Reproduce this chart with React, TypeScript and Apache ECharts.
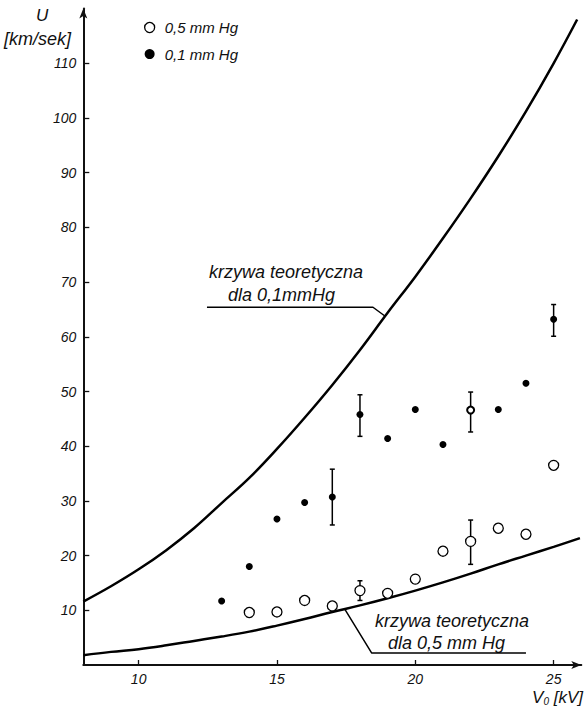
import React, { useEffect, useRef } from "react";
import * as echarts from "echarts";

// axis ticks
const xTicks = [10, 15, 20, 25];
const yTicks = [10, 20, 30, 40, 50, 60, 70, 80, 90, 100, 110];

// measured points, 0,5 mm Hg (open circles)
const v05 = [14, 15, 16, 17, 18, 19, 20, 21, 22, 23, 24, 25];
const u05 = [9.6, 9.7, 11.8, 10.8, 13.6, 13.1, 15.7, 20.8, 22.6, 25.0, 23.9, 36.5];

// measured points, 0,1 mm Hg (filled dots)
const v01 = [13, 14, 15, 16, 17, 18, 19, 20, 21, 22, 23, 24, 25];
const u01 = [11.7, 18.0, 26.7, 29.7, 30.7, 45.8, 41.4, 46.7, 40.3, 46.6, 46.7, 51.5, 63.2];

// error bars [V, low, high]
const err05 = [
  [18, 11.8, 15.4],
  [22, 18.4, 26.5],
];
const err01 = [
  [17, 25.6, 35.8],
  [18, 41.8, 49.4],
  [22, 42.6, 49.9],
  [25, 60.1, 65.9],
];

// theoretical curves
const thV01 = [8, 9, 10, 11, 12, 13, 14, 15, 16, 17, 18, 19, 20, 21, 22, 23, 24, 25, 25.85];
const thU01 = [11.6, 14.4, 17.5, 21.0, 25.0, 29.6, 34.2, 39.5, 45.2, 51.2, 57.6, 64.4, 71.0, 78.0, 85.3, 93.0, 101.2, 110.0, 118.0];
const thV05 = [8, 9, 10, 11, 12, 13, 14, 15, 16, 17, 18, 19, 20, 21, 22, 23, 24, 25, 25.95];
const thU05 = [1.8, 2.4, 2.9, 3.6, 4.4, 5.2, 6.1, 7.2, 8.4, 9.7, 10.9, 12.2, 13.6, 15.1, 16.7, 18.4, 20.0, 21.6, 23.2];

// leader lines of the annotations (data coordinates)
const leader01 = [[12.47, 65.4], [18.47, 65.4], [18.9, 63.8]];
const leader05 = [[17.45, 10.2], [18.42, 2.2], [24.0, 2.2]];

const labelFont = "'Liberation Sans', Arial, sans-serif";

function errorBar(params: any, api: any) {
  const x = api.value(0);
  const lo = api.coord([x, api.value(1)]);
  const hi = api.coord([x, api.value(2)]);
  const w = 2.5;
  const st = { stroke: "#000", lineWidth: 1.5 };
  return {
    type: "group",
    children: [
      { type: "line", shape: { x1: lo[0], y1: lo[1], x2: hi[0], y2: hi[1] }, style: st },
      { type: "line", shape: { x1: lo[0] - w, y1: lo[1], x2: lo[0] + w, y2: lo[1] }, style: st },
      { type: "line", shape: { x1: hi[0] - w, y1: hi[1], x2: hi[0] + w, y2: hi[1] }, style: st },
    ],
  };
}

export default function App() {
  const ref = useRef<HTMLDivElement>(null);
  useEffect(() => {
    document.body.style.margin = "0";
    const chart = echarts.init(ref.current!, null, { renderer: "svg" });
    const zip = (a: number[], b: number[]) => a.map((v, i) => [v, b[i]]);
    const noteStyle = { fontFamily: labelFont, fontStyle: "italic", fontSize: 18, fill: "#111" };
    chart.setOption({
      animation: false,
      backgroundColor: "#fff",
      grid: { left: 83.3, right: 5.7, top: 8.6, bottom: 52 },
      legend: {
        orient: "vertical",
        left: 139,
        top: 14.5,
        itemWidth: 14,
        itemHeight: 10,
        itemGap: 10.6,
        textStyle: {
          fontFamily: labelFont,
          fontStyle: "italic",
          fontSize: 15,
          lineHeight: 16,
          color: "#111",
          padding: [0, 0, 0, 3],
        },
        data: [
          { name: "0,5 mm Hg", icon: "circle", itemStyle: { color: "#fff", borderColor: "#000", borderWidth: 1.3 } },
          { name: "0,1 mm Hg", icon: "circle", itemStyle: { color: "#000", borderWidth: 0 } },
        ],
      },
      xAxis: {
        type: "value",
        min: 8,
        max: 26,
        splitLine: { show: false },
        axisLine: {
          lineStyle: { color: "#111", width: 2 },
          symbol: ["none", "arrow"],
          symbolSize: [6, 10],
        },
        axisTick: { inside: true, length: 5, customValues: xTicks, lineStyle: { color: "#111", width: 1.3 } },
        axisLabel: {
          customValues: xTicks,
          margin: 7,
          fontFamily: labelFont,
          fontStyle: "italic",
          fontSize: 14,
          color: "#111",
        },
      },
      yAxis: {
        type: "value",
        min: 0,
        max: 120,
        splitLine: { show: false },
        axisLine: {
          lineStyle: { color: "#111", width: 2 },
          symbol: ["none", "arrow"],
          symbolSize: [6, 10],
        },
        axisTick: { inside: true, length: 6, customValues: yTicks, lineStyle: { color: "#111", width: 1.3 } },
        axisLabel: {
          customValues: yTicks,
          margin: 7,
          fontFamily: labelFont,
          fontStyle: "italic",
          fontSize: 14,
          color: "#111",
        },
      },
      graphic: [
        { type: "text", left: 36, top: 7, style: { text: "U", fontFamily: labelFont, fontStyle: "italic", fontSize: 17, fill: "#111" } },
        { type: "text", left: 4, top: 30, style: { text: "[km/sek]", fontFamily: labelFont, fontStyle: "italic", fontSize: 18, fill: "#111" } },
        {
          type: "text",
          right: 4,
          top: 689,
          style: {
            text: "V{s|0} [kV]",
            rich: { s: { fontSize: 10, fontStyle: "italic", fontFamily: labelFont, verticalAlign: "bottom", padding: [7, 0, 0, 0] } },
            fontFamily: labelFont,
            fontStyle: "italic",
            fontSize: 17,
            fill: "#111",
          },
        },
        { type: "text", x: 286, y: 272, style: { ...noteStyle, text: "krzywa teoretyczna", textAlign: "center", textVerticalAlign: "middle" } },
        { type: "text", x: 228, y: 295, style: { ...noteStyle, text: "dla 0,1mmHg", textAlign: "left", textVerticalAlign: "middle" } },
        { type: "text", x: 452, y: 621, style: { ...noteStyle, text: "krzywa teoretyczna", textAlign: "center", textVerticalAlign: "middle" } },
        { type: "text", x: 388, y: 643, style: { ...noteStyle, text: "dla 0,5 mm Hg", textAlign: "left", textVerticalAlign: "middle" } },
      ],
      series: [
        {
          name: "teoria 0,1",
          type: "line",
          data: zip(thV01, thU01),
          smooth: 0.4,
          showSymbol: false,
          lineStyle: { color: "#000", width: 2.5 },
          silent: true,
        },
        {
          name: "teoria 0,5",
          type: "line",
          data: zip(thV05, thU05),
          smooth: 0.4,
          showSymbol: false,
          lineStyle: { color: "#000", width: 2.5 },
          silent: true,
        },
        {
          name: "leader 0,1",
          type: "line",
          data: leader01,
          showSymbol: false,
          lineStyle: { color: "#000", width: 1.5 },
          silent: true,
        },
        {
          name: "leader 0,5",
          type: "line",
          data: leader05,
          showSymbol: false,
          lineStyle: { color: "#000", width: 1.5 },
          silent: true,
        },
        {
          name: "err 0,5",
          type: "custom",
          renderItem: errorBar,
          data: err05,
          encode: { x: 0, y: [1, 2] },
          z: 3,
        },
        {
          name: "err 0,1",
          type: "custom",
          renderItem: errorBar,
          data: err01,
          encode: { x: 0, y: [1, 2] },
          z: 3,
        },
        {
          name: "0,5 mm Hg",
          type: "scatter",
          data: zip(v05, u05),
          symbol: "circle",
          symbolSize: 10,
          itemStyle: { color: "#fff", borderColor: "#000", borderWidth: 1.3, opacity: 1 },
          z: 5,
        },
        {
          name: "0,1 mm Hg",
          type: "scatter",
          data: zip(v01, u01).map((d) =>
            d[0] === 22
              ? { value: d, symbolSize: 7, itemStyle: { color: "#fff", borderColor: "#000", borderWidth: 2 } }
              : { value: d }
          ),
          symbol: "circle",
          symbolSize: 7,
          itemStyle: { color: "#000", opacity: 1 },
          z: 5,
        },
      ],
    });
    return () => chart.dispose();
  }, []);
  return <div ref={ref} style={{ width: 587, height: 717 }} />;
}
